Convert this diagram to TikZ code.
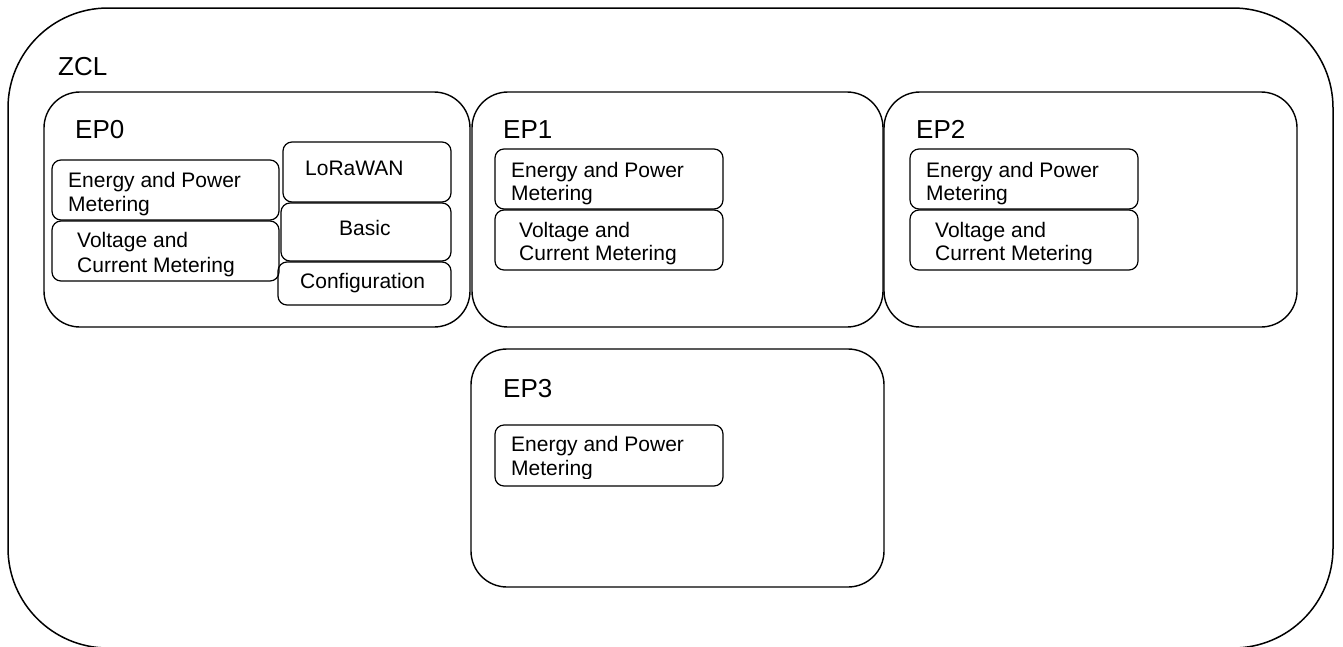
\documentclass[tikz,border=0pt]{standalone}
\usepackage{fontspec}
\setmainfont{Liberation Sans}
\begin{document}
\begin{tikzpicture}[x=1pt,y=-1pt,
  frame/.style={draw, line width=1.5pt, rounded corners=100pt, inner sep=0, outer sep=0, anchor=north west},
  epbox/.style={draw, line width=1.4pt, rounded corners=36pt, inner sep=0, outer sep=0, anchor=north west},
  clbox/.style={draw, line width=1.2pt, rounded corners=9pt, inner sep=0, outer sep=0, anchor=north west},
  ttl/.style={font=\fontsize{26}{30}\selectfont, anchor=base west, inner sep=0},
  txt/.style={font=\fontsize{21}{24}\selectfont, anchor=base west, inner sep=0},
  bx/.style n args={2}{minimum width=#1pt, minimum height=#2pt}]
\useasboundingbox (0,0) rectangle (1343,646);
% outer frame
\node[frame, bx={1325}{640}] (zcl) at (8,8) {};
\node[ttl] (zcllbl) at (58,75) {ZCL};
% endpoint boxes
\node[epbox, bx={426}{235}] (ep0) at (44,92) {};
\node[epbox, bx={411}{235}] (ep1) at (472,92) {};
\node[epbox, bx={413}{235}] (ep2) at (884,92) {};
\node[epbox, bx={413}{238}] (ep3) at (471,349) {};
\node[ttl] (ep0lbl) at (75,138) {EP0};
\node[ttl] (ep1lbl) at (503,138) {EP1};
\node[ttl] (ep2lbl) at (916,138) {EP2};
\node[ttl] (ep3lbl) at (503,397) {EP3};
% EP0 clusters
\node[clbox, bx={227}{60}] (e0a) at (52,160) {};
\node[clbox, bx={227}{60}] (e0b) at (52,221) {};
\node[clbox, bx={168}{60}] (lora) at (283,142) {};
\node[clbox, bx={170}{58}] (basic) at (281,203) {};
\node[clbox, bx={173}{43}] (conf) at (278,262) {};
\node[txt] (e0a1) at (68,187) {Energy and Power};
\node[txt] (e0a2) at (68,211) {Metering};
\node[txt] (e0b1) at (77,247) {Voltage and};
\node[txt] (e0b2) at (77,272) {Current Metering};
\node[txt] (loralbl) at (305,175) {LoRaWAN};
\node[txt] (basiclbl) at (339,235) {Basic};
\node[txt] (conflbl) at (300,288) {Configuration};
% EP1 clusters
\node[clbox, bx={228}{60}] (e1a) at (495,149) {};
\node[clbox, bx={228}{60}] (e1b) at (495,210) {};
\node[txt] (e1a1) at (511,177) {Energy and Power};
\node[txt] (e1a2) at (511,200) {Metering};
\node[txt] (e1b1) at (519,237) {Voltage and};
\node[txt] (e1b2) at (519,260) {Current Metering};
% EP2 clusters
\node[clbox, bx={228}{60}] (e2a) at (910,149) {};
\node[clbox, bx={228}{60}] (e2b) at (910,210) {};
\node[txt] (e2a1) at (926,177) {Energy and Power};
\node[txt] (e2a2) at (926,200) {Metering};
\node[txt] (e2b1) at (935,237) {Voltage and};
\node[txt] (e2b2) at (935,260) {Current Metering};
% EP3 cluster
\node[clbox, bx={228}{61}] (e3a) at (495,425) {};
\node[txt] (e3a1) at (511,451) {Energy and Power};
\begin{scope}
  \clip (500,455) rectangle (720,478);
  \node[txt] (e3a2) at (511,475) {Metering};
\end{scope}
\end{tikzpicture}
\end{document}
